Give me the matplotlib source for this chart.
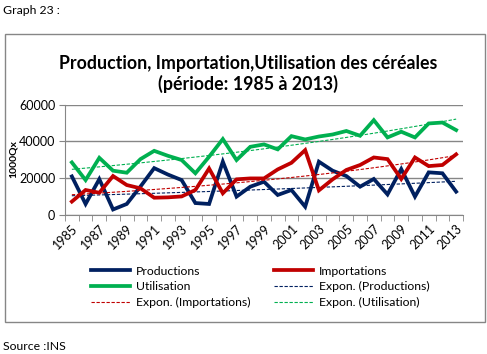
import numpy as np
import matplotlib.pyplot as plt
from matplotlib.patches import Rectangle

years = list(range(1985, 2014))
productions = [21000, 6000, 19500, 3000, 6000, 15500, 25500, 22000, 19000, 6500,
               6000, 29000, 10000, 15400, 18100, 10900, 13600, 4500, 29000, 24100,
               21200, 15400, 19600, 11200, 25000, 10000, 23200, 22700, 12700]
importations = [7300, 13600, 12100, 21200, 16300, 14500, 9400, 9600, 10100, 13600,
                25300, 11800, 19400, 19900, 19900, 24800, 28400, 35300, 13400, 19400,
                24500, 27200, 31300, 30400, 19600, 31300, 26600, 27200, 33000]
utilisation = [28600, 19000, 31100, 24100, 23000, 30400, 34900, 32200, 29900, 22700,
               31700, 41300, 29900, 37100, 38400, 35700, 42900, 41100, 42700, 43800,
               45700, 43100, 51600, 42200, 45300, 42200, 49800, 50300, 46200]

names = ["Productions", "Importations", "Utilisation"]
colors = ["#002060", "#C00000", "#00B050"]

plt.rcParams['font.family'] = ['Lato', 'DejaVu Sans']

fig = plt.figure(figsize=(4.87, 3.54), dpi=100)
ax = fig.add_axes([65 / 487, 1 - 215 / 354, 398 / 487, 110.3 / 354])

x = np.arange(len(years))
series = [productions, importations, utilisation]
lines = {}
trends = {}
for name, vals, c in zip(names, series, colors):
    lines[name], = ax.plot(x, vals, color=c, lw=2.7, solid_joinstyle='miter')
    # exponential trend line, like Excel's "Expon." fit
    b, a = np.polyfit(x, np.log(vals), 1)
    trends[name], = ax.plot(x, np.exp(a + b * x), color=c, lw=0.8, ls=(0, (3, 1.5)))

ax.set_xlim(-0.5, len(years) - 0.5)
ax.set_ylim(0, 60000)
ax.set_yticks([0, 20000, 40000, 60000])
ax.yaxis.grid(True, color='#868686', lw=1)
ax.set_axisbelow(True)
ax.set_xticks(x[::2])
ax.set_xticklabels([str(y) for y in years[::2]], rotation=45, ha='right',
                   rotation_mode='anchor')
ax.set_xticks(np.arange(-0.5, len(years), 1), minor=True)
ax.tick_params(axis='x', which='major', length=0, labelsize=9, pad=5)
ax.tick_params(axis='x', which='minor', length=4, color='#868686')
ax.tick_params(axis='y', length=4, color='#868686', labelsize=9, pad=3)
for s in ['top', 'right']:
    ax.spines[s].set_visible(False)
for s in ['left', 'bottom']:
    ax.spines[s].set_color('#868686')

fig.text(13 / 487, 1 - 159 / 354, "1000Qx", rotation=90, fontsize=7.5,
         fontweight='bold', ha='center', va='center')

fig.text(0.51, 1 - 74 / 354, "Production, Importation,Utilisation des céréales\n(période: 1985 à 2013)",
         ha='center', va='center', fontsize=12.8, fontweight='bold', linespacing=1.25)

handles = [lines["Productions"], lines["Utilisation"], trends["Importations"],
           lines["Importations"], trends["Productions"], trends["Utilisation"]]
labels = ["Productions", "Utilisation", "Expon. (Importations)",
          "Importations", "Expon. (Productions)", "Expon. (Utilisation)"]
fig.legend(handles, labels, ncol=2, loc='center', bbox_to_anchor=(260 / 487, 1 - 287 / 354),
           frameon=False, fontsize=8.8, handlelength=3.2, columnspacing=1.9,
           labelspacing=0.4, handletextpad=0.5)

fig.patches.append(Rectangle((5 / 487, 1 - 322 / 354), 480 / 487, 288 / 354,
                             transform=fig.transFigure, fill=False,
                             edgecolor='#868686', lw=1))

fig.text(3 / 487, 1 - 10 / 354, "Graph 23 :", fontsize=8.8, va='center')
fig.text(3 / 487, 1 - 347 / 354, "Source :INS", fontsize=8.8, va='center')

fig.savefig("out.png", dpi=100)
